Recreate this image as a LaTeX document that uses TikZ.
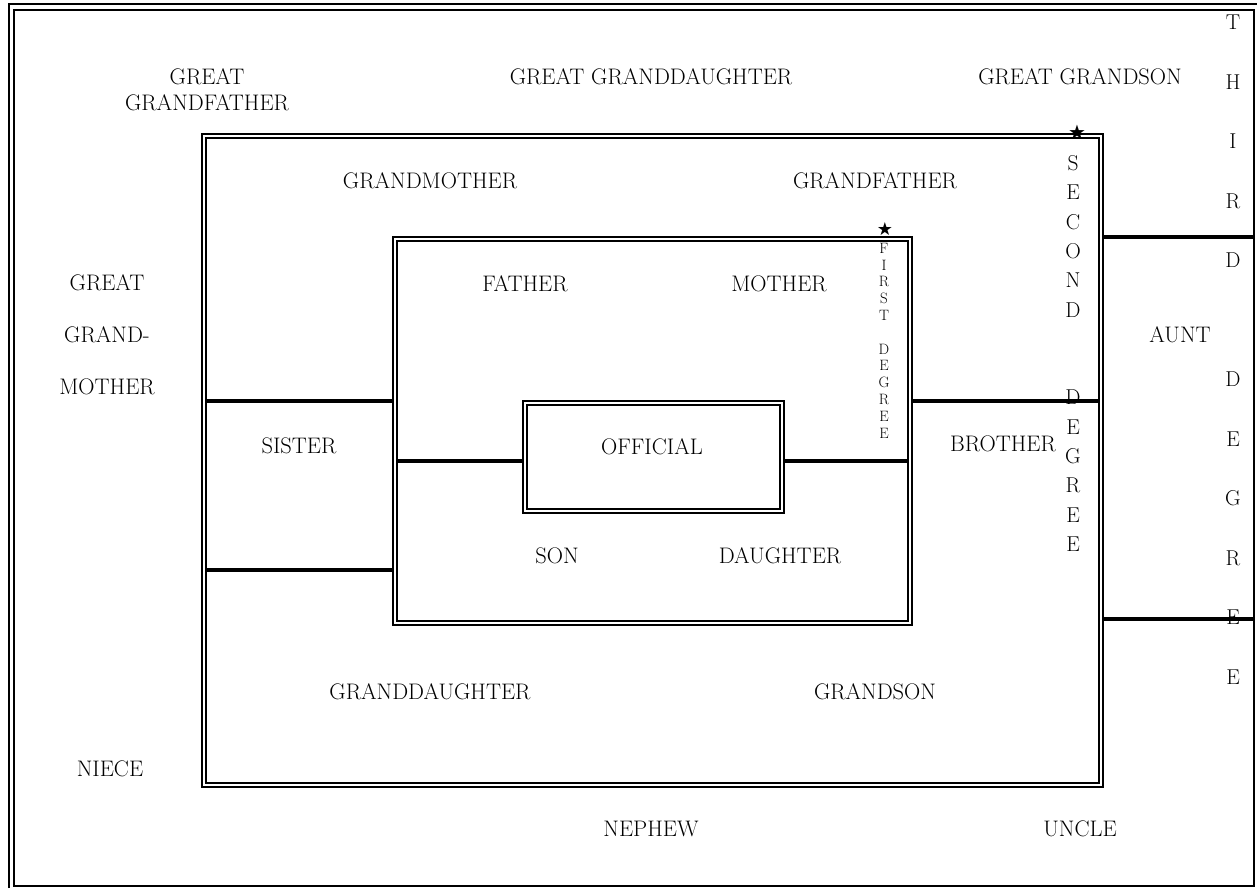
\documentclass[tikz,border=0pt]{standalone}
\usepackage{fontspec}
\newfontfamily\symfont{DejaVu Sans}
\begin{document}
\begin{tikzpicture}[x=1pt,y=-1pt,
  lbl/.style={inner sep=0pt, font=\fontsize{22.5}{27}\selectfont},
  frame/.style={draw, double, line width=2.2pt, double distance=1.8pt, inner sep=0pt, anchor=north west},
  tie/.style={line width=4pt},
  vtext/.style={inner sep=0pt, align=center},
  starsym/.style={inner sep=0pt}]
\useasboundingbox (0,0) rectangle (1257,888);
\fill[white] (0,0) rectangle (1257,888);

% outer frame (double on left and top)
\coordinate (otl) at (9,4);
\coordinate (obl) at (9,888);
\coordinate (otr) at (1257,4);
\draw[line width=2.2pt] (obl) -- (otl) -- (otr);
\node[draw, line width=2.2pt, inner sep=0pt, anchor=north west, minimum width=1240pt, minimum height=876pt] (outer) at (13,9) {};

% frames
\node[frame, minimum width=897pt, minimum height=649pt] (second) at (203,135) {};
\node[frame, minimum width=515pt, minimum height=384pt] (first) at (394,238) {};
\node[frame, minimum width=257pt, minimum height=108pt] (official) at (524,402) {};

% connectors
\coordinate (a1) at (396,461);
\draw[tie] (a1) -- (official.west |- a1);
\coordinate (a2) at (907,461);
\draw[tie] (official.east |- a2) -- (a2);
\coordinate (b1) at (205,401);
\draw[tie] (b1) -- (first.west |- b1);
\coordinate (b2) at (205,570);
\draw[tie] (b2) -- (first.west |- b2);
\coordinate (b3) at (1098,401);
\draw[tie] (first.east |- b3) -- (b3);
\coordinate (c1) at (1253,237);
\draw[tie] (second.east |- c1) -- (c1);
\coordinate (c2) at (1253,619);
\draw[tie] (second.east |- c2) -- (c2);

% labels
\node[lbl, align=center, font=\fontsize{22.5}{26}\selectfont] (ggf) at (207,90) {GREAT\\GRANDFATHER};
\node[lbl] (ggd) at (651,77) {GREAT GRANDDAUGHTER};
\node[lbl] (ggs) at (1080,77) {GREAT GRANDSON};
\node[lbl] (gm) at (430,181) {GRANDMOTHER};
\node[lbl] (gf) at (875,181) {GRANDFATHER};
\node[lbl, align=center, font=\fontsize{22.5}{52}\selectfont] (ggm) at (107,335) {GREAT\\GRAND-\\MOTHER};
\node[lbl] (fa) at (525,284) {FATHER};
\node[lbl] (mo) at (779,284) {MOTHER};
\node[lbl] (au) at (1180,335) {AUNT};
\node[lbl] (si) at (299,446) {SISTER};
\node[lbl] (of) at (652,447) {OFFICIAL};
\node[lbl] (br) at (1003,444) {BROTHER};
\node[lbl] (so) at (557,556) {SON};
\node[lbl] (da) at (780,556) {DAUGHTER};
\node[lbl] (gd) at (430,692) {GRANDDAUGHTER};
\node[lbl] (gs) at (875,692) {GRANDSON};
\node[lbl] (ni) at (110,769) {NIECE};
\node[lbl] (ne) at (651,829) {NEPHEW};
\node[lbl] (un) at (1080,829) {UNCLE};

% vertical degree labels
\node[vtext, font=\fontsize{15}{16.8}\selectfont] (firstdeg) at (884,340.5) {F\\I\\R\\S\\T\\[16.8pt]D\\E\\G\\R\\E\\E};
\node[vtext, font=\fontsize{21.5}{29.3}\selectfont] (seconddeg) at (1073,353.5) {S\\E\\C\\O\\N\\D\\[58.6pt]D\\E\\G\\R\\E\\E};
\node[vtext, font=\fontsize{21.5}{59.5}\selectfont] (thirddeg) at (1233,349.5) {T\\H\\I\\R\\D\\[59.5pt]D\\E\\G\\R\\E\\E};

% stars
\node[starsym, font=\symfont\fontsize{18}{18}\selectfont] (star1) at (885,229) {★};
\node[starsym, font=\symfont\fontsize{20}{20}\selectfont] (star2) at (1077,132) {★};
\end{tikzpicture}
\end{document}
